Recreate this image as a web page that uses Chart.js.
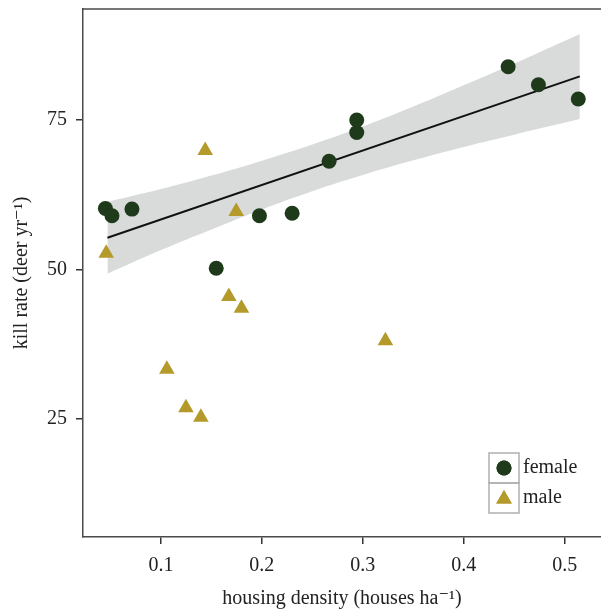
<!DOCTYPE html>
<html>
<head>
<meta charset="utf-8">
<script src="https://cdn.jsdelivr.net/npm/chart.js@4/dist/chart.umd.min.js"></script>
<style>
    body { margin: 0; background: #fff; }
    #wrap { position: relative; width: 601px; height: 611px; }
</style>
</head>
<body>
<div id="wrap"><canvas id="graficoKillRate"></canvas></div>
<script>
// valores
var femaleX = [0.045, 0.0515, 0.0713, 0.1548, 0.1976, 0.230, 0.2666, 0.294, 0.294, 0.444, 0.474, 0.5135];
var femaleY = [60.2, 59.0, 60.1, 50.2, 59.0, 59.4, 68.1, 72.9, 75.0, 83.9, 80.9, 78.5];

var maleX = [0.0458, 0.1059, 0.1248, 0.1396, 0.1439, 0.1673, 0.1746, 0.1798, 0.3224];
var maleY = [52.7, 33.3, 26.9, 25.3, 69.9, 45.5, 59.7, 43.5, 38.1];

// recta de regresion y banda de confianza
var fitX = [0.047, 0.515];
var fitY = [55.3, 82.3];
var bandX = [0.047, 0.1, 0.15, 0.2, 0.25, 0.3, 0.35, 0.4, 0.45, 0.515];
var bandUpper = [61.3, 63.45, 65.7, 68.2, 70.9, 73.9, 77.25, 80.8, 84.45, 89.4];
var bandLower = [49.3, 53.25, 56.7, 60.05, 63.1, 65.8, 68.25, 70.5, 72.55, 75.15];

var xTicks = [0.1, 0.2, 0.3, 0.4, 0.5];
var yTicks = [25, 50, 75];

var seriesNames = ['female', 'male'];

function pares(xs, ys) {
    var out = [];
    for (var i = 0; i < xs.length; i++) {
        out.push({ x: xs[i], y: ys[i] });
    }
    return out;
}

var femaleColor = '#1f3a1b';
var maleColor = '#b49a2b';
var frameColor = '#4a4a4a';
var serif = "'Liberation Serif', 'DejaVu Serif', serif";

// linea superior del marco
var topFrame = {
    id: 'topFrame',
    beforeDatasetsDraw: function (chart) {
        var a = chart.chartArea;
        var ctx = chart.ctx;
        ctx.save();
        ctx.strokeStyle = frameColor;
        ctx.lineWidth = 1.5;
        ctx.beginPath();
        ctx.moveTo(a.left, a.top);
        ctx.lineTo(a.right, a.top);
        ctx.stroke();
        ctx.restore();
    }
};

// leyenda dentro del area del grafico
var legendBox = {
    id: 'legendBox',
    afterDraw: function (chart) {
        var a = chart.chartArea;
        var ctx = chart.ctx;
        var left = a.right - 112;
        var top = a.bottom - 84;
        var cell = 30;
        ctx.save();
        ctx.strokeStyle = '#b0b0b0';
        ctx.lineWidth = 1.5;
        ctx.strokeRect(left, top, cell, cell);
        ctx.strokeRect(left, top + cell, cell, cell);
        var styles = ['circle', 'triangle'];
        var colors = [femaleColor, maleColor];
        for (var i = 0; i < seriesNames.length; i++) {
            var cx = left + cell / 2;
            var cy = top + cell / 2 + i * cell;
            ctx.fillStyle = colors[i];
            Chart.helpers.drawPoint(ctx, { pointStyle: styles[i], radius: i === 0 ? 7.5 : 9, borderWidth: 0 }, cx, cy + (i === 1 ? 1 : 0));
            ctx.fill();
            ctx.fillStyle = '#222';
            ctx.font = '20px ' + serif;
            ctx.textBaseline = 'middle';
            ctx.fillText(seriesNames[i], left + cell + 4, cy);
        }
        ctx.restore();
    }
};

var ctx = document.getElementById('graficoKillRate').getContext('2d');
var grafico = new Chart(ctx, {
    type: 'scatter',
    data: {
        datasets: [
            {
                type: 'line',
                label: 'lower',
                data: pares(bandX, bandLower),
                borderWidth: 0,
                pointRadius: 0,
                tension: 0.4,
                fill: false,
                order: 4
            },
            {
                type: 'line',
                label: 'upper',
                data: pares(bandX, bandUpper),
                borderWidth: 0,
                pointRadius: 0,
                tension: 0.4,
                backgroundColor: '#d9dada',
                fill: '-1',
                order: 3
            },
            {
                type: 'line',
                label: 'fit',
                data: pares(fitX, fitY),
                borderColor: '#111',
                borderWidth: 2,
                pointRadius: 0,
                fill: false,
                order: 2
            },
            {
                label: seriesNames[0],
                data: pares(femaleX, femaleY),
                backgroundColor: femaleColor,
                borderWidth: 0,
                pointRadius: 7.5,
                pointStyle: 'circle',
                order: 1
            },
            {
                label: seriesNames[1],
                data: pares(maleX, maleY),
                backgroundColor: maleColor,
                borderWidth: 0,
                pointRadius: 9,
                pointStyle: 'triangle',
                order: 0
            }
        ]
    },
    options: {
        responsive: true,
        maintainAspectRatio: false,
        animation: false,
        layout: { autoPadding: false, padding: { top: 9, right: 0, left: 0, bottom: 0 } },
        plugins: {
            legend: { display: false },
            tooltip: { enabled: false }
        },
        scales: {
            x: {
                type: 'linear',
                min: 0.0228,
                max: 0.536,
                afterFit: function (scale) {
                    scale.height = 74;
                    scale.paddingLeft = 0;
                    scale.paddingRight = 0;
                },
                afterBuildTicks: function (scale) {
                    scale.ticks = xTicks.map(function (v) { return { value: v }; });
                },
                ticks: {
                    color: '#222',
                    font: { family: serif, size: 20 },
                    padding: 10,
                    maxRotation: 0,
                    callback: function (v) { return v.toFixed(1); }
                },
                grid: {
                    drawOnChartArea: false,
                    drawTicks: true,
                    tickLength: 7,
                    color: '#333',
                    lineWidth: 1.5
                },
                border: { display: true, color: frameColor, width: 1.5 },
                title: {
                    display: true,
                    text: 'housing density (houses ha\u207B\u00B9)',
                    color: '#222',
                    font: { family: serif, size: 20 },
                    padding: { top: 4, bottom: 0 }
                }
            },
            y: {
                type: 'linear',
                min: 5.27,
                max: 93.56,
                afterFit: function (scale) {
                    scale.width = 83;
                    scale.paddingTop = 0;
                    scale.paddingBottom = 0;
                },
                afterBuildTicks: function (scale) {
                    scale.ticks = yTicks.map(function (v) { return { value: v }; });
                },
                ticks: {
                    color: '#222',
                    font: { family: serif, size: 20 },
                    padding: 9
                },
                grid: {
                    drawOnChartArea: false,
                    drawTicks: true,
                    tickLength: 7,
                    color: '#333',
                    lineWidth: 1.5
                },
                border: { display: true, color: frameColor, width: 1.5 },
                title: {
                    display: true,
                    text: 'kill rate (deer yr\u207B\u00B9)',
                    color: '#222',
                    font: { family: serif, size: 20 },
                    padding: { top: 10, bottom: 0 }
                }
            }
        }
    },
    plugins: [topFrame, legendBox]
});
</script>
</body>
</html>
